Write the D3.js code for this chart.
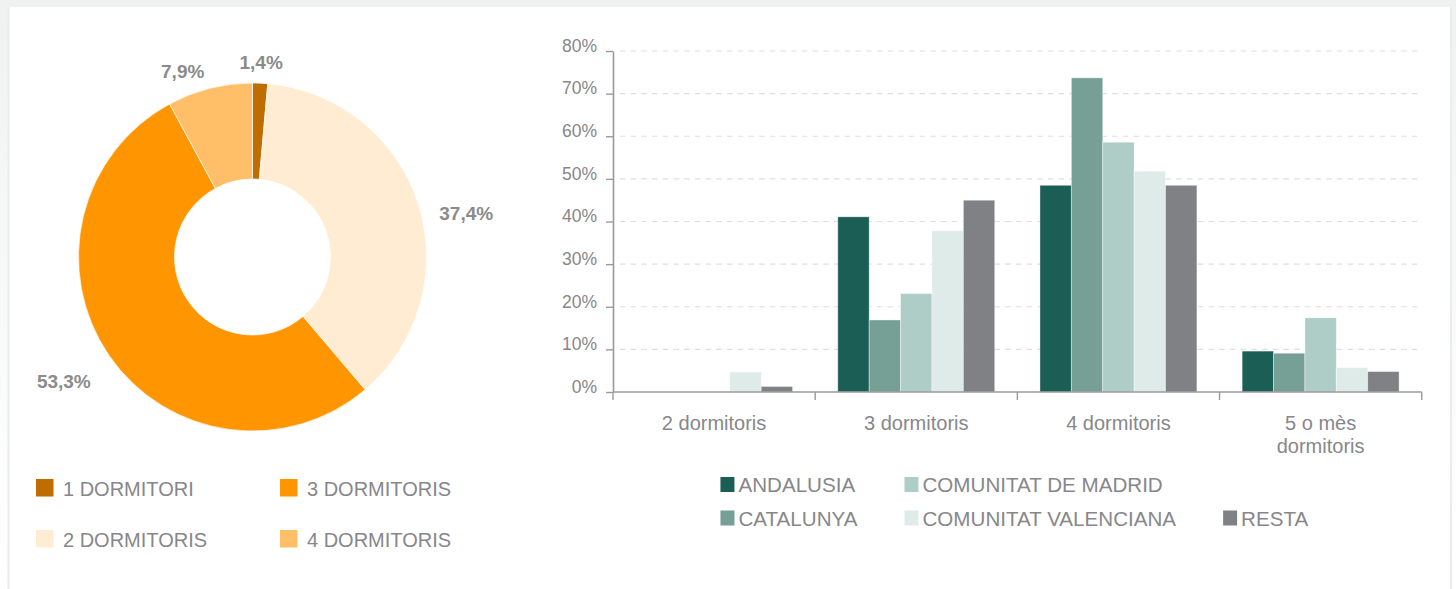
<!DOCTYPE html>
<html>
<head>
<meta charset="utf-8">
<script src="https://cdn.jsdelivr.net/npm/d3@7"></script>
<style>
  html, body { margin: 0; padding: 0; background: #fff; }
  svg { display: block; font-family: "Liberation Sans", Arial, Helvetica, sans-serif; }
</style>
</head>
<body>
<svg id="chart" width="1456" height="589"></svg>
<script>
// Bedroom mix (donut)
const roomTypes = ["1 DORMITORI", "2 DORMITORIS", "3 DORMITORIS", "4 DORMITORIS"];
const roomShares = [1.4, 37.4, 53.3, 7.9];
const roomColors = ["#c06d00", "#ffecd2", "#ff9500", "#ffbf69"];

// Bedroom distribution by region (grouped bars, %)
const categories = ["2 dormitoris", "3 dormitoris", "4 dormitoris", "5 o mès dormitoris"];
const regions = ["ANDALUSIA", "CATALUNYA", "COMUNITAT DE MADRID", "COMUNITAT VALENCIANA", "RESTA"];
const andalusia  = [0,   41.1, 48.5, 9.6];
const catalunya  = [0,   16.9, 73.7, 9.1];
const madrid     = [0,   23.1, 58.6, 17.4];
const valenciana = [4.7, 37.8, 51.8, 5.7];
const resta      = [1.3, 45.0, 48.5, 4.8];
const regionColors = ["#1b5e55", "#769f96", "#aecdc7", "#deebe8", "#808184"];
const yTicks = [0, 10, 20, 30, 40, 50, 60, 70, 80];

const seriesValues = [andalusia, catalunya, madrid, valenciana, resta];

const TEXT = "#87878a";
const svg = d3.select("#chart");
const W = 1456, H = 589;

const ca = d3.formatLocale({ decimal: ",", thousands: ".", grouping: [3], currency: ["", "€"] });
const pct1 = v => ca.format(".1f")(v) + "%";

// ---- page frame ----
const defs = svg.append("defs");
const fade = defs.append("linearGradient").attr("id", "edgeFade")
  .attr("x1", 0).attr("y1", 0).attr("x2", 0).attr("y2", 1);
fade.append("stop").attr("offset", "0%").attr("stop-color", "#f0f2f2");
fade.append("stop").attr("offset", "100%").attr("stop-color", "#ffffff");

svg.append("rect").attr("x", 0).attr("y", 0).attr("width", W).attr("height", H).attr("fill", "#fff");
svg.append("rect").attr("x", 0).attr("y", 0).attr("width", 8).attr("height", H).attr("fill", "url(#edgeFade)");
svg.append("rect").attr("x", 1451).attr("y", 0).attr("width", 5).attr("height", H).attr("fill", "url(#edgeFade)");
svg.append("rect").attr("x", 0).attr("y", 0).attr("width", W).attr("height", 7).attr("fill", "#f0f2f2");
svg.append("line").attr("x1", 8.5).attr("x2", 8.5).attr("y1", 7).attr("y2", H)
  .attr("stroke", "#ebecec").attr("stroke-width", 2);
svg.append("line").attr("x1", 1451).attr("x2", 1451).attr("y1", 7).attr("y2", H)
  .attr("stroke", "#ebecec").attr("stroke-width", 2);

// ---- donut ----
const cx = 252.5, cy = 257, rOuter = 174, rInner = 78;
const pie = d3.pie().sort(null).value(d => d.v);
const pieData = pie(roomTypes.map((t, i) => ({ t, v: roomShares[i], c: roomColors[i] })));
const arc = d3.arc().innerRadius(rInner).outerRadius(rOuter);

const donut = svg.append("g").attr("transform", `translate(${cx},${cy})`);
donut.selectAll("path.slice").data(pieData).join("path")
  .attr("class", "slice")
  .attr("d", arc)
  .attr("fill", d => d.data.c)
  .attr("stroke", "#fff")
  .attr("stroke-width", 0.7);

// value labels just outside the ring, aligned away from the centre
const labelR = 196;
donut.selectAll("text.val").data(pieData).join("text")
  .attr("class", "val")
  .each(function (d) {
    const a = (d.startAngle + d.endAngle) / 2;
    const s = Math.sin(a), c = Math.cos(a);
    d3.select(this)
      .attr("x", s * labelR)
      .attr("y", -c * labelR)
      .attr("dy", (0.35 + 0.85 * Math.abs(s)).toFixed(2) + "em")
      .attr("text-anchor", Math.abs(s) < 0.1 ? "middle" : (s > 0 ? "start" : "end"));
  })
  .attr("fill", "#8b8b8b")
  .attr("font-size", 19)
  .attr("font-weight", "bold")
  .text(d => pct1(d.data.v));

// donut legend: 2 columns, filled column by column
const pieLegend = svg.append("g").attr("transform", "translate(36,0)");
const pieLegendItem = pieLegend.selectAll("g").data(roomTypes).join("g")
  .attr("transform", (d, i) => `translate(${Math.floor(i / 2) * 244},${496 + (i % 2) * 51})`);
pieLegendItem.append("rect")
  .attr("x", 0).attr("y", -17).attr("width", 17.5).attr("height", 17.5)
  .attr("fill", (d, i) => roomColors[i]);
pieLegendItem.append("text")
  .attr("x", 27).attr("y", 0)
  .attr("fill", TEXT).attr("font-size", 20)
  .text(d => d);

// ---- grouped bars ----
const x0 = d3.scaleBand().domain(categories).range([613, 1421.7]).padding(0);
const x1 = d3.scaleBand().domain(regions).range([0, x0.bandwidth()]).paddingInner(0).paddingOuter(0.72);
const y = d3.scaleLinear().domain([0, 80]).range([392, 51]);

// dashed grid
svg.append("g").selectAll("line").data(yTicks.filter(t => t > 0)).join("line")
  .attr("x1", 620).attr("x2", 1419)
  .attr("y1", d => y(d)).attr("y2", d => y(d))
  .attr("stroke", "#dedede").attr("stroke-width", 1.2)
  .attr("stroke-dasharray", "5.5,5.2");

// bars
const groups = svg.append("g").selectAll("g").data(categories).join("g")
  .attr("transform", d => `translate(${x0(d)},0)`);
groups.selectAll("rect").data((c, ci) => regions.map((r, ri) => ({ r, ri, v: seriesValues[ri][ci] })))
  .join("rect")
  .attr("x", d => x1(d.r))
  .attr("width", x1.bandwidth())
  .attr("y", d => y(d.v))
  .attr("height", d => y(0) - y(d.v))
  .attr("fill", d => regionColors[d.ri])
  .attr("stroke", "#fff").attr("stroke-opacity", 0.5).attr("stroke-width", 0.8)
  .attr("display", d => d.v > 0 ? null : "none");

// y axis
const yAxis = svg.append("g").attr("transform", "translate(613,0)")
  .call(d3.axisLeft(y).tickValues(yTicks).tickFormat(d => d + "%").tickSize(7).tickSizeOuter(0).tickPadding(9));
yAxis.select(".domain").attr("stroke", "#9a9a9a").attr("stroke-width", 1.6);
yAxis.selectAll(".tick line").attr("stroke", "#9a9a9a").attr("stroke-width", 1.4);
yAxis.selectAll(".tick text")
  .attr("fill", TEXT).attr("font-size", 17.5)
  .attr("font-family", "Liberation Sans, Arial, sans-serif")
  .attr("dy", "0.02em");

// x axis: line, boundary ticks, centred labels
const xAxis = svg.append("g");
xAxis.append("line")
  .attr("x1", x0.range()[0]).attr("x2", x0.range()[1])
  .attr("y1", y(0)).attr("y2", y(0))
  .attr("stroke", "#9a9a9a").attr("stroke-width", 1.6);
const bounds = categories.map(c => x0(c)).concat([x0.range()[1]]);
xAxis.selectAll("line.b").data(bounds).join("line")
  .attr("class", "b")
  .attr("x1", d => d).attr("x2", d => d)
  .attr("y1", y(0)).attr("y2", y(0) + 8)
  .attr("stroke", "#9a9a9a").attr("stroke-width", 1.4);

const maxLabelW = 150;
const xLabels = xAxis.selectAll("text.cat").data(categories).join("text")
  .attr("class", "cat")
  .attr("x", d => x0(d) + x0.bandwidth() / 2)
  .attr("y", 430)
  .attr("text-anchor", "middle")
  .attr("fill", TEXT).attr("font-size", 20);
// wrap long category names onto further lines
xLabels.each(function (d) {
  const t = d3.select(this);
  const words = d.split(" ");
  let line = [];
  let ts = t.append("tspan").attr("x", t.attr("x")).attr("dy", 0);
  words.forEach(w => {
    line.push(w);
    ts.text(line.join(" "));
    if (ts.node().getComputedTextLength() > maxLabelW && line.length > 1) {
      line.pop();
      ts.text(line.join(" "));
      line = [w];
      ts = t.append("tspan").attr("x", t.attr("x")).attr("dy", "1.17em").text(w);
    }
  });
});

// bar legend: columns of two rows, last short column aligned to the bottom row
const legRows = 2;
const legGap = 47, swatchW = 14, swatchH = 15, textOff = 18;
const leg = svg.append("g");
const cols = d3.range(Math.ceil(regions.length / legRows)).map(c =>
  regions.slice(c * legRows, c * legRows + legRows).map((r, k, arr) => ({
    r, i: c * legRows + k, row: k + (legRows - arr.length)
  })));
const colG = leg.selectAll("g.col").data(cols).join("g").attr("class", "col");
const items = colG.selectAll("g.it").data(d => d).join("g").attr("class", "it")
  .attr("transform", d => `translate(0,${492 + d.row * 33.5})`);
items.append("rect")
  .attr("x", 0).attr("y", -swatchH).attr("width", swatchW).attr("height", swatchH)
  .attr("fill", d => regionColors[d.i]);
items.append("text")
  .attr("x", textOff).attr("y", 0)
  .attr("fill", TEXT).attr("font-size", 20.6)
  .text(d => d.r);
let cursor = 0;
const colX = [];
colG.each(function () {
  colX.push(cursor);
  const w = d3.max(d3.select(this).selectAll("text").nodes(), n => n.getComputedTextLength());
  cursor += textOff + w + legGap;
});
const legW = cursor - legGap;
const legStart = (x0.range()[0] + x0.range()[1]) / 2 - 3 - legW / 2;
colG.attr("transform", (d, i) => `translate(${legStart + colX[i]},0)`);
</script>
</body>
</html>
